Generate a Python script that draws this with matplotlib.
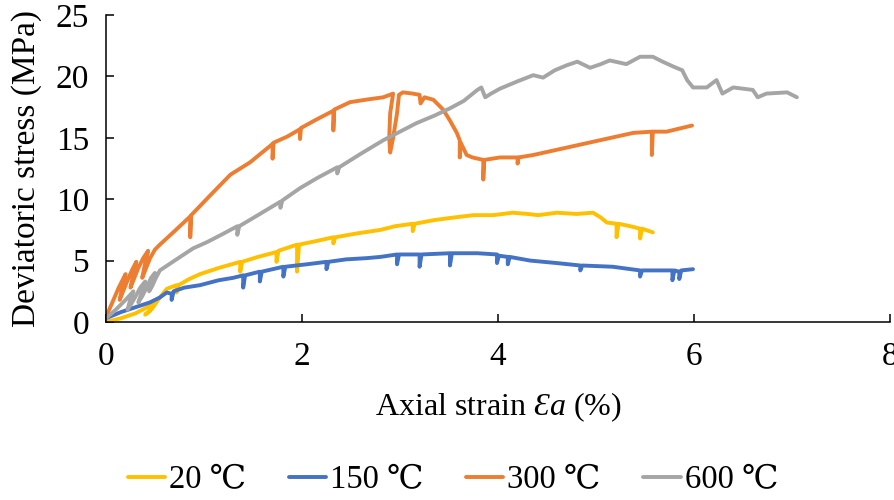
import matplotlib
matplotlib.use('Agg')
import matplotlib.pyplot as plt

# values (strain %, stress MPa)
labels = ['20 \u2103', '150 \u2103', '300 \u2103', '600 \u2103']
colors = ['#FFC000', '#4472C4', '#ED7D31', '#A5A5A5']

x_20 = [0, 0.15, 0.30, 0.42, 0.50, 0.45, 0.40, 0.48, 0.55, 0.62, 0.72, 0.72, 0.74, 0.85, 0.96,
        1.15, 1.37, 1.37, 1.39, 1.55, 1.74, 1.74, 1.76, 1.95, 1.95, 1.97, 2.15, 2.32, 2.32, 2.34,
        2.55, 2.80, 2.95, 3.13, 3.13, 3.15, 3.35, 3.54, 3.75, 3.95, 4.15, 4.30, 4.41, 4.60, 4.80,
        4.97, 5.05, 5.11, 5.21, 5.21, 5.23, 5.35, 5.45, 5.45, 5.47, 5.58]
y_20 = [0, 0.3, 0.7, 1.2, 1.6, 0.9, 0.6, 1.2, 2.0, 2.7, 3.0, 2.4, 3.0, 3.5, 3.9,
        4.4, 4.9, 4.1, 4.9, 5.3, 5.7, 4.9, 5.8, 6.3, 4.1, 6.3, 6.6, 6.9, 6.4, 6.9,
        7.2, 7.5, 7.8, 8.0, 7.4, 8.0, 8.3, 8.5, 8.7, 8.7, 8.9, 8.8, 8.7, 8.9, 8.8,
        8.9, 8.5, 8.1, 8.0, 6.9, 8.0, 7.8, 7.6, 6.8, 7.6, 7.3]

x_150 = [0, 0.15, 0.30, 0.45, 0.55, 0.62, 0.67, 0.67, 0.69, 0.80, 0.96, 1.15, 1.30, 1.40, 1.40,
         1.42, 1.57, 1.57, 1.59, 1.81, 1.81, 1.83, 2.05, 2.25, 2.25, 2.27, 2.45, 2.66, 2.80, 2.97,
         2.97, 2.99, 3.20, 3.20, 3.22, 3.51, 3.51, 3.53, 3.79, 3.99, 3.99, 4.01, 4.10, 4.10, 4.12,
         4.33, 4.60, 4.84, 4.84, 4.86, 5.17, 5.45, 5.45, 5.47, 5.65, 5.78, 5.78, 5.80, 5.85, 5.85,
         5.87, 5.99]
y_150 = [0.3, 0.8, 1.2, 1.6, 2.0, 2.4, 2.3, 1.8, 2.5, 2.8, 3.0, 3.4, 3.6, 3.8, 2.8,
         3.8, 4.1, 3.3, 4.1, 4.5, 3.7, 4.5, 4.7, 4.9, 4.3, 4.9, 5.1, 5.2, 5.3, 5.5,
         4.7, 5.5, 5.5, 4.5, 5.5, 5.6, 4.6, 5.6, 5.6, 5.5, 4.8, 5.4, 5.3, 4.7, 5.3,
         5.0, 4.8, 4.6, 4.2, 4.6, 4.5, 4.2, 3.7, 4.2, 4.2, 4.2, 3.4, 4.2, 4.1, 3.5,
         4.2, 4.3]

x_300 = [0, 0.06, 0.13, 0.20, 0.17, 0.14, 0.17, 0.22, 0.27, 0.31, 0.28, 0.25, 0.28, 0.33, 0.38,
         0.43, 0.40, 0.37, 0.40, 0.45, 0.50, 0.55, 0.70, 0.86, 0.86, 0.87, 1.05, 1.27, 1.47, 1.70,
         1.70, 1.71, 1.85, 1.98, 1.98, 1.99, 2.15, 2.32, 2.32, 2.33, 2.49, 2.65, 2.83, 2.93, 2.90,
         2.89, 2.90, 2.93, 2.97, 2.99, 3.03, 3.13, 3.20, 3.21, 3.25, 3.34, 3.44, 3.51, 3.58, 3.61,
         3.61, 3.62, 3.68, 3.74, 3.85, 3.85, 3.86, 4.02, 4.20, 4.20, 4.21, 4.36, 4.70, 5.04, 5.38,
         5.57, 5.57, 5.58, 5.72, 5.98]
y_300 = [0.4, 1.5, 2.8, 3.9, 3.0, 1.8, 2.4, 3.4, 4.3, 4.9, 3.9, 2.8, 3.4, 4.4, 5.2,
         5.8, 4.8, 3.6, 4.2, 5.2, 5.9, 6.3, 7.4, 8.6, 6.9, 8.7, 10.2, 12.0, 13.0, 14.5,
         13.3, 14.6, 15.1, 15.7, 14.9, 15.8, 16.5, 17.2, 15.6, 17.3, 17.9, 18.1, 18.3, 18.6, 17.0,
         15.0, 13.8, 15.0, 17.0, 18.5, 18.7, 18.6, 18.5, 17.8, 18.3, 18.1, 17.3, 16.4, 15.4, 14.8,
         13.4, 14.6, 13.6, 13.4, 13.2, 11.6, 13.2, 13.4, 13.4, 12.9, 13.4, 13.6, 14.2, 14.8, 15.4,
         15.5, 13.6, 15.5, 15.5, 16.0]

x_600 = [0, 0.10, 0.20, 0.28, 0.25, 0.22, 0.26, 0.31, 0.35, 0.40, 0.37, 0.33, 0.37, 0.42, 0.46,
         0.50, 0.47, 0.44, 0.47, 0.51, 0.55, 0.70, 0.89, 1.03, 1.20, 1.34, 1.34, 1.36, 1.55, 1.78,
         1.78, 1.80, 1.98, 2.15, 2.36, 2.36, 2.38, 2.60, 2.83, 3.00, 3.17, 3.35, 3.51, 3.65, 3.79,
         3.83, 3.87, 3.93, 4.02, 4.20, 4.36, 4.46, 4.58, 4.70, 4.81, 4.94, 5.05, 5.14, 5.31, 5.45,
         5.58, 5.68, 5.79, 5.88, 5.93, 5.99, 6.13, 6.23, 6.29, 6.40, 6.60, 6.65, 6.74, 6.95, 7.05]
y_600 = [0.3, 1.0, 1.8, 2.5, 1.9, 1.0, 1.5, 2.2, 2.8, 3.3, 2.5, 1.6, 2.1, 2.9, 3.6,
         4.0, 3.2, 2.5, 2.9, 3.6, 4.2, 5.0, 6.0, 6.5, 7.2, 7.8, 7.1, 7.8, 8.7, 9.8,
         9.3, 9.9, 10.9, 11.7, 12.6, 12.1, 12.6, 13.7, 14.8, 15.5, 16.2, 16.8, 17.4, 18.0, 18.9,
         19.1, 18.3, 18.6, 19.0, 19.6, 20.1, 19.9, 20.5, 20.9, 21.2, 20.7, 21.0, 21.3, 21.0, 21.6,
         21.6, 21.2, 20.8, 20.5, 19.7, 19.1, 19.1, 19.7, 18.6, 19.1, 18.9, 18.3, 18.6, 18.7, 18.3]

xs = [x_20, x_150, x_300, x_600]
ys = [y_20, y_150, y_300, y_600]

plt.rcParams['font.family'] = ['Liberation Serif', 'DejaVu Serif']
plt.rcParams['mathtext.fontset'] = 'custom'
plt.rcParams['mathtext.rm'] = 'Liberation Serif'
plt.rcParams['mathtext.it'] = 'Liberation Serif:italic'

fig = plt.figure(figsize=(8.95, 5.0), dpi=100)
ax = fig.add_axes([0.1184, 0.356, 0.876, 0.614])

for x, y, c, lab in zip(xs, ys, colors, labels):
    ax.plot(x, y, color=c, lw=2.8, label=lab, solid_joinstyle='round', solid_capstyle='round')

ax.set_xlim(0, 8)
ax.set_ylim(0, 25)
ax.set_xticks([0, 2, 4, 6, 8])
ax.set_yticks([0, 5, 10, 15, 20, 25])
ax.spines['top'].set_visible(False)
ax.spines['right'].set_visible(False)
for s in ['left', 'bottom']:
    ax.spines[s].set_linewidth(1.1)
ax.tick_params(direction='in', length=6, width=1.1, labelsize=24)
ax.tick_params(axis='y', pad=12)
ax.tick_params(axis='x', pad=14)

ax.set_xlabel('Axial strain $\\mathit{\u0190a}$ (%)', fontsize=23, labelpad=13)
ax.set_ylabel('Deviatoric stress (MPa)', fontsize=24, labelpad=10)

fig.legend(loc='center', bbox_to_anchor=(0.506, 0.04), ncol=4, frameon=False,
           fontsize=23.5, handlelength=1.15, handletextpad=0.12, columnspacing=1.3)

fig.savefig('out.png', dpi=100)
